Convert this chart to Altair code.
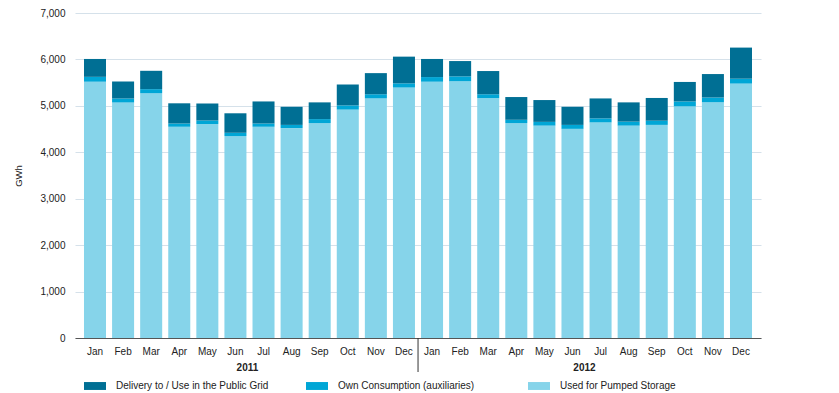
import altair as alt
import pandas as pd

months = ["Jan", "Feb", "Mar", "Apr", "May", "Jun", "Jul", "Aug", "Sep", "Oct", "Nov", "Dec"]
years = ["2011", "2012"]

series = ["Delivery to / Use in the Public Grid", "Own Consumption (auxiliaries)", "Used for Pumped Storage"]
colors = ["#006f94", "#00a6d6", "#86d4ea"]

# GWh per month, Jan 2011 .. Dec 2012
pumped = [5520, 5075, 5275, 4550, 4610, 4350, 4550, 4520, 4630, 4920, 5160, 5395,
          5520, 5530, 5165, 4630, 4575, 4505, 4645, 4575, 4590, 4990, 5075, 5480]
own = [105, 85, 85, 70, 75, 70, 70, 70, 85, 90, 90, 90,
       100, 105, 85, 70, 80, 85, 85, 85, 90, 105, 105, 105]
grid = [385, 365, 395, 435, 365, 420, 475, 390, 360, 450, 455, 575,
        390, 330, 500, 490, 470, 390, 430, 415, 490, 420, 505, 670]

y_ticks = [0, 1000, 2000, 3000, 4000, 5000, 6000, 7000]

keys = [f"{m} {y}" for y in years for m in months]

rows = []
for i, k in enumerate(keys):
    rows.append({"key": k, "series": series[2], "value": pumped[i], "ord": 0})
    rows.append({"key": k, "series": series[1], "value": own[i], "ord": 1})
    rows.append({"key": k, "series": series[0], "value": grid[i], "ord": 2})
df = pd.DataFrame(rows)

W, H = 686, 325
FONT = "Liberation Sans"

xscale = alt.Scale(domain=keys, paddingInner=0.216, paddingOuter=0.32)

bars = alt.Chart(df).mark_bar().encode(
    x=alt.X("key:N", sort=keys, scale=xscale,
            axis=alt.Axis(title=None, labelAngle=0, ticks=False, tickSize=0,
                          labelPadding=8, labelExpr="split(datum.value, ' ')[0]",
                          domainColor="#555555", domainWidth=1, labelFontSize=10,
                          labelColor="#222222", labelFont=FONT)),
    y=alt.Y("value:Q", stack="zero", scale=alt.Scale(domain=[0, 7000], nice=False),
            axis=alt.Axis(values=y_ticks, format=",.0f", title="GWh", grid=True,
                          gridColor="#d5e1ea", gridWidth=1, ticks=False, domain=False,
                          labelPadding=10, labelFontSize=10, labelColor="#222222",
                          labelFont=FONT, titleFont=FONT, titleFontSize=9.5,
                          titleFontWeight="normal", titleColor="#222222",
                          titlePadding=16)),
    color=alt.Color("series:N", scale=alt.Scale(domain=series, range=colors),
                    legend=alt.Legend(title=None, orient="none", direction="horizontal",
                                      columns=3, gridAlign="all", columnPadding=37,
                                      legendX=9, legendY=362, padding=0,
                                      symbolType="M-1,-0.36H1V0.36H-1Z", symbolSize=484,
                                      symbolStrokeWidth=0, symbolOpacity=1,
                                      labelFont=FONT, labelFontSize=10,
                                      labelColor="#222222", labelOffset=10)),
    order=alt.Order("ord:Q", sort="ascending"),
)

ydf = pd.DataFrame({"year": years, "key": ["Jun 2011", "Jun 2012"]})
year_text = alt.Chart(ydf).mark_text(
    fontWeight="bold", fontSize=10, font=FONT, color="#222222", dx=1, baseline="middle"
).encode(
    x=alt.X("key:N", sort=keys, scale=xscale, bandPosition=1),
    y=alt.value(H + 30),
    text="year:N",
)

sdf = pd.DataFrame({"key": ["Jan 2012"]})
sep = alt.Chart(sdf).mark_rule(color="#333333", strokeWidth=1, xOffset=-3).encode(
    x=alt.X("key:N", sort=keys, scale=xscale, bandPosition=0),
    y=alt.value(H),
    y2=alt.value(H + 34),
)

chart = alt.layer(bars, sep, year_text).properties(
    width=W, height=H,
    autosize=alt.AutoSizeParams(type="none"),
    padding={"left": 67, "top": 5, "right": 10, "bottom": 55},
).configure_view(stroke=None)

chart.save("out.html", embed_options={"renderer": "svg", "actions": False})
